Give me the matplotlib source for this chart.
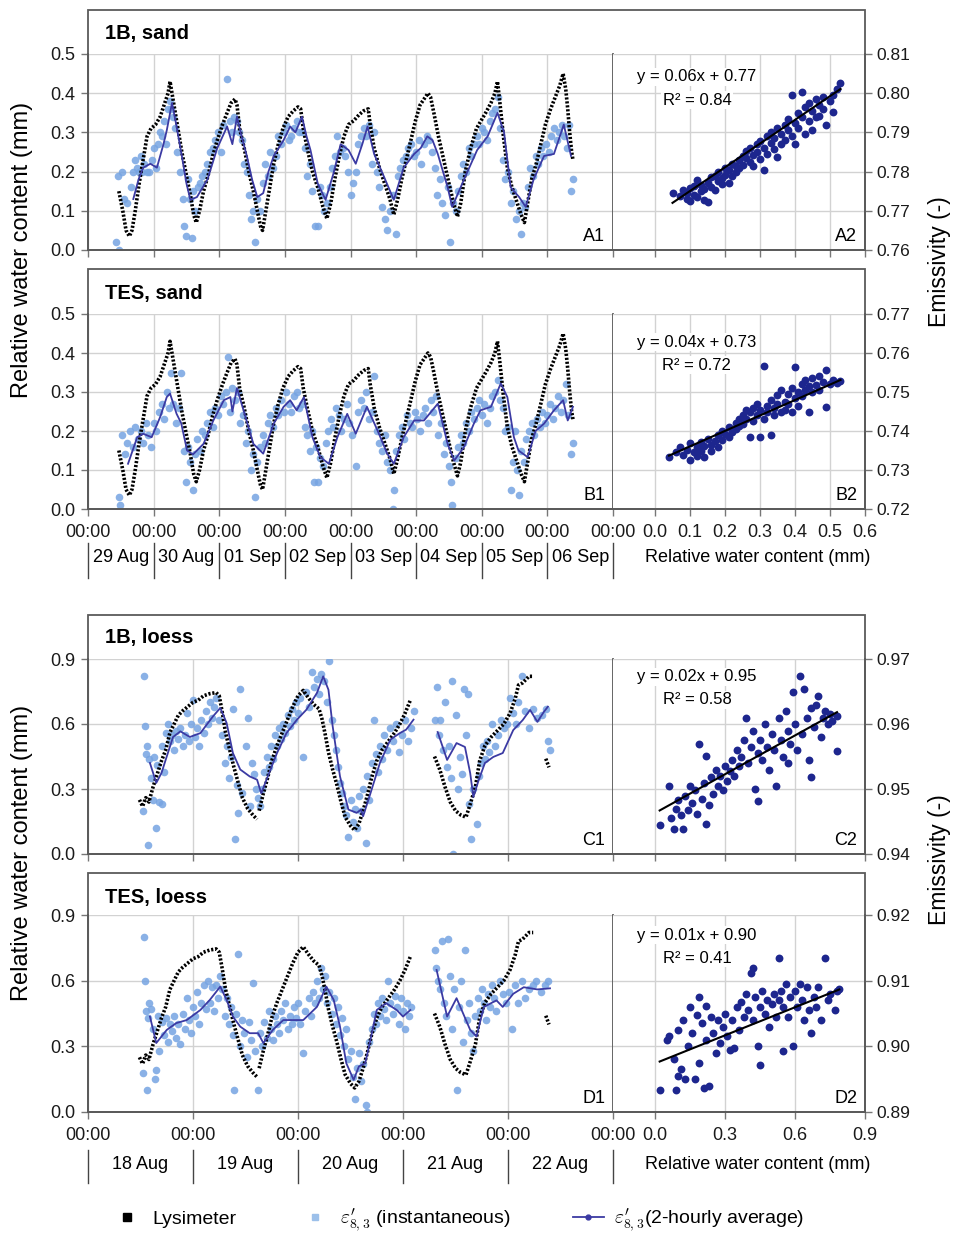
import numpy as np
import matplotlib
matplotlib.use("Agg")
import matplotlib.pyplot as plt
from matplotlib.patches import Rectangle
from matplotlib.lines import Line2D

plt.rcParams['font.family'] = ['Liberation Sans', 'DejaVu Sans']
plt.rcParams['mathtext.fontset'] = 'cm'

# ==================== Data ====================
sand_days = ['29 Aug', '30 Aug', '01 Sep', '02 Sep', '03 Sep', '04 Sep', '05 Sep', '06 Sep']
loess_days = ['18 Aug', '19 Aug', '20 Aug', '21 Aug', '22 Aug']

# lysimeter, sand (days since first midnight, relative water content)
lys_sand = [
    (0.47, 0.15), (0.53, 0.10), (0.58, 0.05), (0.63, 0.035), (0.67, 0.05), (0.72, 0.10), (0.78, 0.17),
    (0.84, 0.23), (0.90, 0.29), (0.96, 0.31), (1.03, 0.32), (1.10, 0.34), (1.16, 0.37), (1.22, 0.40),
    (1.25, 0.43), (1.27, 0.41), (1.31, 0.37), (1.37, 0.31), (1.43, 0.25), (1.50, 0.19), (1.56, 0.14),
    (1.61, 0.09), (1.65, 0.07), (1.70, 0.10), (1.76, 0.15), (1.83, 0.19), (1.90, 0.24), (1.97, 0.28),
    (2.05, 0.32), (2.12, 0.35), (2.18, 0.375), (2.24, 0.385), (2.27, 0.37), (2.31, 0.31), (2.38, 0.26),
    (2.45, 0.20), (2.52, 0.15), (2.58, 0.10), (2.63, 0.06), (2.66, 0.05), (2.70, 0.09), (2.76, 0.15),
    (2.83, 0.22), (2.90, 0.27), (2.97, 0.31), (3.05, 0.34), (3.13, 0.355), (3.20, 0.365), (3.24, 0.36),
    (3.28, 0.31), (3.34, 0.26), (3.42, 0.20), (3.50, 0.16), (3.58, 0.11), (3.64, 0.08), (3.70, 0.12),
    (3.76, 0.18), (3.83, 0.24), (3.90, 0.29), (3.97, 0.32), (4.05, 0.33), (4.13, 0.345), (4.20, 0.355),
    (4.27, 0.36), (4.30, 0.32), (4.36, 0.26), (4.44, 0.21), (4.52, 0.17), (4.60, 0.13), (4.66, 0.09),
    (4.72, 0.13), (4.78, 0.18), (4.85, 0.23), (4.92, 0.28), (4.99, 0.33), (5.06, 0.37), (5.12, 0.385),
    (5.18, 0.40), (5.22, 0.39), (5.27, 0.35), (5.34, 0.29), (5.42, 0.23), (5.50, 0.17), (5.57, 0.12),
    (5.63, 0.085), (5.68, 0.12), (5.75, 0.20), (5.83, 0.26), (5.92, 0.31), (5.99, 0.33), (6.06, 0.35),
    (6.14, 0.375), (6.20, 0.40), (6.24, 0.43), (6.28, 0.37), (6.33, 0.29), (6.39, 0.21), (6.46, 0.16),
    (6.54, 0.12), (6.60, 0.09), (6.65, 0.07), (6.70, 0.12), (6.76, 0.18), (6.83, 0.22), (6.90, 0.27),
    (6.97, 0.32), (7.05, 0.36), (7.12, 0.39), (7.19, 0.42), (7.24, 0.45), (7.28, 0.41), (7.31, 0.36),
    (7.34, 0.30), (7.37, 0.25), (7.39, 0.23),
]

a1_avg = [
    (0.69, 0.13), (0.77, 0.18), (0.84, 0.21), (0.95, 0.22), (1.05, 0.21), (1.15, 0.27), (1.20, 0.305),
    (1.28, 0.375), (1.35, 0.315), (1.43, 0.24), (1.50, 0.17), (1.56, 0.128), (1.66, 0.135), (1.82, 0.18),
    (1.97, 0.26), (2.12, 0.315), (2.20, 0.27), (2.27, 0.34), (2.34, 0.29), (2.42, 0.24), (2.50, 0.18),
    (2.58, 0.135), (2.67, 0.145), (2.75, 0.20), (2.83, 0.24), (2.98, 0.28), (3.08, 0.315), (3.16, 0.30),
    (3.26, 0.34), (3.33, 0.29), (3.39, 0.255), (3.50, 0.17), (3.62, 0.128), (3.74, 0.195), (3.85, 0.27),
    (3.97, 0.255), (4.08, 0.22), (4.18, 0.27), (4.26, 0.315), (4.36, 0.245), (4.51, 0.187), (4.66, 0.128),
    (4.81, 0.21), (4.97, 0.245), (5.07, 0.26), (5.17, 0.29), (5.25, 0.28), (5.33, 0.245), (5.48, 0.16),
    (5.55, 0.11), (5.73, 0.18), (5.93, 0.255), (6.09, 0.29), (6.24, 0.35), (6.34, 0.30), (6.44, 0.16),
    (6.57, 0.135), (6.67, 0.11), (6.79, 0.18), (6.95, 0.24), (7.10, 0.245), (7.25, 0.32), (7.36, 0.24),
]

a1_inst = [
    (0.42, 0.02), (0.45, 0.19), (0.48, 0.0), (0.52, 0.20), (0.55, 0.13), (0.60, 0.12), (0.65, 0.16),
    (0.68, 0.20), (0.72, 0.23), (0.75, 0.21), (0.78, 0.20), (0.80, 0.24), (0.83, 0.20), (0.86, 0.22),
    (0.90, 0.20), (0.93, 0.20), (0.97, 0.23), (1.00, 0.26), (1.03, 0.21), (1.06, 0.27), (1.10, 0.30),
    (1.13, 0.29), (1.16, 0.33), (1.19, 0.27), (1.22, 0.36), (1.25, 0.38), (1.27, 0.36), (1.30, 0.34),
    (1.33, 0.31), (1.36, 0.25), (1.40, 0.20), (1.44, 0.13), (1.47, 0.06), (1.50, 0.035), (1.52, 0.18),
    (1.55, 0.13), (1.58, 0.03), (1.60, 0.15), (1.63, 0.10), (1.67, 0.16), (1.70, 0.17), (1.74, 0.19),
    (1.78, 0.20), (1.82, 0.22), (1.86, 0.25), (1.90, 0.26), (1.94, 0.28), (1.98, 0.30), (2.02, 0.25),
    (2.06, 0.32), (2.12, 0.435), (2.16, 0.33), (2.20, 0.30), (2.23, 0.34), (2.27, 0.33), (2.30, 0.30),
    (2.34, 0.28), (2.38, 0.22), (2.42, 0.20), (2.45, 0.14), (2.48, 0.08), (2.52, 0.10), (2.55, 0.02),
    (2.58, 0.13), (2.62, 0.10), (2.66, 0.17), (2.70, 0.22), (2.74, 0.19), (2.78, 0.25), (2.82, 0.21),
    (2.86, 0.24), (2.90, 0.29), (2.94, 0.27), (2.98, 0.30), (3.02, 0.32), (3.06, 0.28), (3.10, 0.29),
    (3.14, 0.31), (3.18, 0.33), (3.22, 0.30), (3.26, 0.30), (3.30, 0.26), (3.34, 0.19), (3.38, 0.22),
    (3.42, 0.15), (3.46, 0.06), (3.50, 0.06), (3.53, 0.16), (3.56, 0.14), (3.60, 0.10), (3.64, 0.12),
    (3.68, 0.16), (3.72, 0.21), (3.76, 0.24), (3.80, 0.29), (3.84, 0.25), (3.88, 0.26), (3.92, 0.24),
    (3.96, 0.20), (4.00, 0.14), (4.04, 0.17), (4.08, 0.20), (4.12, 0.27), (4.16, 0.29), (4.20, 0.31),
    (4.24, 0.29), (4.28, 0.32), (4.32, 0.22), (4.36, 0.30), (4.40, 0.20), (4.44, 0.16), (4.48, 0.11),
    (4.52, 0.08), (4.56, 0.05), (4.60, 0.10), (4.64, 0.14), (4.69, 0.04), (4.72, 0.19), (4.76, 0.21),
    (4.80, 0.23), (4.84, 0.24), (4.88, 0.26), (4.92, 0.27), (4.96, 0.24), (5.00, 0.25), (5.04, 0.28),
    (5.08, 0.22), (5.12, 0.27), (5.16, 0.29), (5.20, 0.28), (5.24, 0.25), (5.28, 0.21), (5.32, 0.14),
    (5.36, 0.18), (5.40, 0.12), (5.44, 0.09), (5.48, 0.16), (5.52, 0.02), (5.56, 0.12), (5.60, 0.10),
    (5.64, 0.15), (5.68, 0.19), (5.72, 0.22), (5.76, 0.20), (5.80, 0.26), (5.84, 0.24), (5.88, 0.27),
    (5.92, 0.29), (5.96, 0.27), (6.00, 0.31), (6.04, 0.30), (6.08, 0.28), (6.12, 0.33), (6.16, 0.35),
    (6.20, 0.36), (6.24, 0.39), (6.28, 0.31), (6.32, 0.23), (6.36, 0.18), (6.40, 0.20), (6.44, 0.12),
    (6.48, 0.15), (6.52, 0.08), (6.56, 0.10), (6.60, 0.04), (6.63, 0.12), (6.66, 0.11), (6.70, 0.16),
    (6.74, 0.21), (6.78, 0.19), (6.82, 0.24), (6.86, 0.22), (6.90, 0.26), (6.94, 0.24), (6.98, 0.27),
    (7.02, 0.25), (7.06, 0.29), (7.10, 0.31), (7.14, 0.28), (7.18, 0.30), (7.22, 0.32), (7.26, 0.29),
    (7.30, 0.26), (7.33, 0.32), (7.36, 0.15), (7.39, 0.18),
]

b1_avg = [
    (0.61, 0.116), (0.75, 0.184), (0.84, 0.193), (0.97, 0.184), (1.10, 0.236), (1.20, 0.287), (1.25, 0.296),
    (1.35, 0.244), (1.42, 0.22), (1.51, 0.15), (1.60, 0.14), (1.76, 0.167), (1.91, 0.227), (2.07, 0.279),
    (2.17, 0.287), (2.20, 0.25), (2.27, 0.31), (2.37, 0.253), (2.52, 0.167), (2.67, 0.142), (2.83, 0.219),
    (2.98, 0.262), (3.08, 0.279), (3.18, 0.253), (3.29, 0.287), (3.42, 0.184), (3.54, 0.133), (3.67, 0.116),
    (3.80, 0.184), (3.95, 0.244), (4.08, 0.193), (4.25, 0.262), (4.41, 0.202), (4.56, 0.142), (4.66, 0.116),
    (4.81, 0.184), (4.97, 0.227), (5.12, 0.227), (5.33, 0.27), (5.48, 0.167), (5.58, 0.124), (5.73, 0.159),
    (5.88, 0.219), (5.98, 0.253), (6.14, 0.262), (6.29, 0.322), (6.39, 0.287), (6.49, 0.184), (6.56, 0.15),
    (6.70, 0.133), (6.82, 0.20), (6.95, 0.219), (7.10, 0.253), (7.24, 0.279), (7.31, 0.227), (7.39, 0.262),
]

b1_inst = [
    (0.47, 0.03), (0.49, 0.01), (0.52, 0.19), (0.56, 0.14), (0.60, 0.17), (0.64, 0.20), (0.68, 0.16),
    (0.72, 0.21), (0.76, 0.18), (0.80, 0.20), (0.84, 0.17), (0.88, 0.22), (0.92, 0.19), (0.96, 0.16),
    (1.00, 0.22), (1.04, 0.20), (1.08, 0.25), (1.12, 0.27), (1.16, 0.23), (1.20, 0.30), (1.23, 0.26),
    (1.26, 0.35), (1.30, 0.27), (1.34, 0.22), (1.38, 0.26), (1.42, 0.35), (1.46, 0.15), (1.49, 0.07),
    (1.52, 0.16), (1.56, 0.12), (1.60, 0.05), (1.63, 0.14), (1.66, 0.18), (1.70, 0.15), (1.74, 0.20),
    (1.78, 0.19), (1.82, 0.22), (1.86, 0.25), (1.90, 0.21), (1.94, 0.26), (1.98, 0.24), (2.02, 0.29),
    (2.06, 0.27), (2.10, 0.30), (2.13, 0.39), (2.17, 0.25), (2.20, 0.31), (2.24, 0.28), (2.28, 0.30),
    (2.32, 0.22), (2.36, 0.24), (2.40, 0.17), (2.44, 0.20), (2.48, 0.10), (2.52, 0.14), (2.55, 0.03),
    (2.58, 0.12), (2.62, 0.16), (2.66, 0.19), (2.70, 0.17), (2.74, 0.22), (2.78, 0.24), (2.82, 0.21),
    (2.86, 0.26), (2.90, 0.24), (2.94, 0.28), (2.98, 0.25), (3.02, 0.30), (3.06, 0.27), (3.10, 0.25),
    (3.14, 0.29), (3.18, 0.30), (3.22, 0.26), (3.26, 0.27), (3.30, 0.21), (3.34, 0.19), (3.38, 0.15),
    (3.42, 0.20), (3.45, 0.07), (3.48, 0.16), (3.50, 0.07), (3.54, 0.13), (3.58, 0.11), (3.62, 0.17),
    (3.66, 0.20), (3.70, 0.23), (3.74, 0.21), (3.78, 0.26), (3.82, 0.24), (3.86, 0.20), (3.90, 0.23),
    (3.94, 0.27), (3.98, 0.22), (4.02, 0.19), (4.08, 0.11), (4.12, 0.25), (4.16, 0.28), (4.20, 0.26),
    (4.24, 0.30), (4.28, 0.23), (4.32, 0.25), (4.36, 0.34), (4.40, 0.20), (4.44, 0.17), (4.48, 0.15),
    (4.52, 0.19), (4.56, 0.12), (4.60, 0.10), (4.64, 0.0), (4.66, 0.05), (4.70, 0.15), (4.74, 0.19),
    (4.78, 0.21), (4.82, 0.18), (4.86, 0.24), (4.90, 0.22), (4.94, 0.21), (4.98, 0.25), (5.02, 0.23),
    (5.06, 0.20), (5.10, 0.24), (5.14, 0.26), (5.18, 0.22), (5.22, 0.28), (5.26, 0.25), (5.30, 0.29),
    (5.34, 0.19), (5.38, 0.22), (5.42, 0.14), (5.46, 0.17), (5.50, 0.11), (5.53, 0.07), (5.55, 0.01),
    (5.60, 0.13), (5.64, 0.16), (5.68, 0.19), (5.72, 0.17), (5.76, 0.22), (5.80, 0.20), (5.84, 0.25),
    (5.88, 0.23), (5.92, 0.26), (5.96, 0.28), (6.00, 0.24), (6.04, 0.27), (6.08, 0.22), (6.12, 0.26),
    (6.16, 0.29), (6.20, 0.30), (6.24, 0.33), (6.28, 0.28), (6.32, 0.26), (6.36, 0.20), (6.40, 0.21),
    (6.44, 0.05), (6.47, 0.12), (6.50, 0.20), (6.53, 0.10), (6.56, 0.035), (6.60, 0.15), (6.64, 0.12),
    (6.68, 0.18), (6.72, 0.20), (6.76, 0.22), (6.80, 0.19), (6.84, 0.23), (6.88, 0.21), (6.92, 0.25),
    (6.96, 0.22), (7.00, 0.24), (7.04, 0.27), (7.08, 0.23), (7.12, 0.26), (7.16, 0.29), (7.20, 0.25),
    (7.24, 0.28), (7.28, 0.32), (7.32, 0.24), (7.36, 0.14), (7.39, 0.17),
]

# lysimeter, loess (nan = gap in record)
lys_loess = [
    (0.49, 0.25), (0.52, 0.22), (0.55, 0.26), (0.58, 0.24), (0.62, 0.31), (0.66, 0.37), (0.70, 0.43),
    (0.74, 0.48), (0.78, 0.56), (0.82, 0.60), (0.86, 0.64), (0.90, 0.66), (0.95, 0.68), (1.00, 0.70),
    (1.05, 0.71), (1.10, 0.73), (1.16, 0.74), (1.22, 0.745), (1.25, 0.73), (1.28, 0.65), (1.31, 0.56),
    (1.35, 0.48), (1.39, 0.40), (1.43, 0.33), (1.47, 0.26), (1.52, 0.21), (1.57, 0.18), (1.61, 0.16),
    (np.nan, np.nan),
    (1.63, 0.20), (1.67, 0.28), (1.71, 0.35), (1.75, 0.43), (1.80, 0.50), (1.85, 0.56), (1.90, 0.62),
    (1.95, 0.68), (2.00, 0.73), (2.05, 0.755), (2.10, 0.72), (2.15, 0.69), (2.20, 0.67), (2.23, 0.62),
    (2.26, 0.55), (2.29, 0.47), (2.33, 0.39), (2.37, 0.32), (2.41, 0.24), (2.45, 0.17), (2.50, 0.13),
    (2.54, 0.11), (2.58, 0.14), (2.62, 0.20), (2.66, 0.27), (2.70, 0.35), (2.75, 0.43), (2.80, 0.48),
    (2.86, 0.52), (2.92, 0.56), (2.97, 0.60), (3.02, 0.65), (3.07, 0.71),
    (np.nan, np.nan),
    (3.30, 0.45), (3.35, 0.39), (3.40, 0.31), (3.45, 0.24), (3.50, 0.20), (3.55, 0.18), (3.60, 0.17),
    (3.64, 0.23), (3.69, 0.31), (3.73, 0.43), (3.78, 0.50), (3.84, 0.54), (3.90, 0.57), (3.96, 0.60),
    (4.02, 0.65), (4.07, 0.72), (4.10, 0.78), (4.14, 0.79), (4.20, 0.82), (4.24, 0.82),
    (np.nan, np.nan),
    (4.36, 0.44), (4.39, 0.40),
]

c1_avg = [
    (0.59, 0.42), (0.65, 0.328), (0.70, 0.374), (0.75, 0.45), (0.81, 0.54), (0.88, 0.566), (0.97, 0.54),
    (1.07, 0.558), (1.19, 0.635), (1.26, 0.674), (1.32, 0.605), (1.38, 0.466), (1.45, 0.39), (1.54, 0.358),
    (1.61, 0.343), (1.65, 0.28), (1.70, 0.343), (1.80, 0.466), (1.89, 0.558), (1.99, 0.62), (2.08, 0.666),
    (2.18, 0.743), (2.24, 0.82), (2.29, 0.758), (2.33, 0.59), (2.40, 0.358), (2.48, 0.205), (2.56, 0.19),
    (2.60, 0.205), (2.62, 0.174), (2.69, 0.28), (2.78, 0.42), (2.88, 0.528), (2.97, 0.558), (3.03, 0.574),
    (3.10, 0.62),
    (np.nan, np.nan),
    (3.33, 0.563), (3.42, 0.434), (3.51, 0.512), (3.59, 0.494), (3.64, 0.373), (3.67, 0.263), (3.72, 0.34),
    (3.78, 0.42), (3.86, 0.448), (3.95, 0.466), (4.05, 0.572), (4.14, 0.618), (4.21, 0.665), (4.28, 0.61),
    (4.34, 0.655), (4.38, 0.68),
]

c1_inst = [
    (0.52, 0.20), (0.53, 0.82), (0.54, 0.59), (0.55, 0.46), (0.56, 0.50), (0.57, 0.04), (0.58, 0.44),
    (0.60, 0.35), (0.62, 0.25), (0.63, 0.45), (0.65, 0.12), (0.66, 0.41), (0.68, 0.24), (0.70, 0.23),
    (0.70, 0.50), (0.72, 0.38), (0.74, 0.56), (0.76, 0.60), (0.78, 0.52), (0.80, 0.55), (0.82, 0.48),
    (0.84, 0.57), (0.86, 0.53), (0.88, 0.58), (0.90, 0.50), (0.92, 0.55), (0.94, 0.65), (0.96, 0.52),
    (0.98, 0.60), (1.00, 0.71), (1.02, 0.54), (1.04, 0.58), (1.06, 0.50), (1.08, 0.62), (1.10, 0.56),
    (1.12, 0.66), (1.14, 0.60), (1.16, 0.70), (1.18, 0.63), (1.20, 0.68), (1.22, 0.72), (1.25, 0.62),
    (1.28, 0.55), (1.30, 0.42), (1.32, 0.50), (1.34, 0.35), (1.36, 0.45), (1.38, 0.67), (1.40, 0.07),
    (1.42, 0.32), (1.43, 0.19), (1.45, 0.76), (1.47, 0.28), (1.50, 0.50), (1.52, 0.63), (1.54, 0.22),
    (1.56, 0.42), (1.58, 0.37), (1.60, 0.30), (1.62, 0.26), (1.64, 0.22), (1.66, 0.30), (1.68, 0.38),
    (1.70, 0.45), (1.72, 0.40), (1.74, 0.50), (1.76, 0.44), (1.78, 0.55), (1.80, 0.50), (1.82, 0.58),
    (1.84, 0.53), (1.86, 0.60), (1.88, 0.56), (1.90, 0.64), (1.92, 0.59), (1.94, 0.67), (1.96, 0.62),
    (1.98, 0.70), (2.00, 0.65), (2.02, 0.72), (2.05, 0.45), (2.08, 0.75), (2.10, 0.68), (2.13, 0.84),
    (2.15, 0.77), (2.18, 0.81), (2.20, 0.74), (2.22, 0.83), (2.25, 0.80), (2.28, 0.70), (2.30, 0.89),
    (2.32, 0.62), (2.34, 0.55), (2.36, 0.48), (2.38, 0.40), (2.40, 0.33), (2.42, 0.28), (2.44, 0.22),
    (2.46, 0.18), (2.48, 0.08), (2.50, 0.25), (2.52, 0.15), (2.54, 0.21), (2.56, 0.12), (2.58, 0.27),
    (2.60, 0.20), (2.62, 0.30), (2.65, 0.05), (2.66, 0.36), (2.68, 0.25), (2.70, 0.42), (2.72, 0.62),
    (2.74, 0.46), (2.76, 0.38), (2.78, 0.50), (2.80, 0.44), (2.82, 0.55), (2.85, 0.48), (2.88, 0.58),
    (2.90, 0.52), (2.93, 0.60), (2.96, 0.47), (2.99, 0.55), (3.02, 0.62), (3.05, 0.52), (3.08, 0.58),
    (3.10, 0.66),
    (3.30, 0.62), (3.32, 0.77), (3.34, 0.55), (3.35, 0.62), (3.38, 0.48), (3.40, 0.70), (3.42, 0.40),
    (3.44, 0.50), (3.46, 0.35), (3.47, 0.80), (3.48, 0.0), (3.50, 0.64), (3.52, 0.30), (3.54, 0.45),
    (3.56, 0.37), (3.58, 0.76), (3.60, 0.55), (3.62, 0.74), (3.63, 0.23), (3.65, 0.07), (3.67, 0.30),
    (3.70, 0.14), (3.72, 0.36), (3.74, 0.42), (3.76, 0.50), (3.78, 0.44), (3.80, 0.52), (3.82, 0.47),
    (3.85, 0.60), (3.88, 0.50), (3.90, 0.55), (3.93, 0.62), (3.96, 0.58), (3.99, 0.60), (4.02, 0.72),
    (4.05, 0.65), (4.08, 0.60), (4.10, 0.70), (4.13, 0.82), (4.16, 0.66), (4.20, 0.58), (4.24, 0.67),
    (4.28, 0.63), (4.32, 0.64), (4.36, 0.67), (4.38, 0.52), (4.40, 0.48),
]

d1_avg = [
    (0.59, 0.436), (0.65, 0.315), (0.75, 0.375), (0.84, 0.406), (0.94, 0.42), (1.07, 0.466), (1.16, 0.512),
    (1.26, 0.573), (1.32, 0.512), (1.38, 0.436), (1.45, 0.39), (1.54, 0.36), (1.62, 0.36), (1.67, 0.315),
    (1.76, 0.375), (1.86, 0.42), (1.96, 0.42), (2.05, 0.42), (2.18, 0.48), (2.27, 0.573), (2.34, 0.512),
    (2.40, 0.39), (2.46, 0.223), (2.53, 0.147), (2.58, 0.208), (2.64, 0.223), (2.69, 0.33), (2.75, 0.466),
    (2.84, 0.497), (2.94, 0.466), (3.00, 0.436), (3.07, 0.466),
    (np.nan, np.nan),
    (3.32, 0.649), (3.42, 0.436), (3.51, 0.52), (3.64, 0.375), (3.70, 0.345), (3.77, 0.48), (3.89, 0.51),
    (3.95, 0.48), (4.05, 0.54), (4.15, 0.57), (4.28, 0.56), (4.40, 0.565),
]

d1_inst = [
    (0.52, 0.18), (0.53, 0.80), (0.54, 0.60), (0.55, 0.46), (0.56, 0.10), (0.57, 0.43), (0.58, 0.50),
    (0.60, 0.47), (0.62, 0.38), (0.64, 0.15), (0.65, 0.19), (0.67, 0.44), (0.68, 0.28), (0.70, 0.41),
    (0.72, 0.35), (0.74, 0.43), (0.76, 0.32), (0.78, 0.40), (0.80, 0.37), (0.82, 0.44), (0.84, 0.34),
    (0.86, 0.40), (0.88, 0.31), (0.90, 0.45), (0.92, 0.38), (0.94, 0.52), (0.96, 0.42), (0.98, 0.36),
    (1.00, 0.48), (1.02, 0.44), (1.04, 0.55), (1.06, 0.40), (1.08, 0.50), (1.10, 0.58), (1.12, 0.47),
    (1.14, 0.60), (1.16, 0.50), (1.18, 0.57), (1.20, 0.46), (1.22, 0.58), (1.24, 0.52), (1.26, 0.62),
    (1.28, 0.56), (1.30, 0.44), (1.32, 0.52), (1.34, 0.40), (1.36, 0.48), (1.38, 0.35), (1.39, 0.10),
    (1.41, 0.45), (1.43, 0.72), (1.45, 0.30), (1.47, 0.42), (1.49, 0.36), (1.51, 0.25), (1.53, 0.41),
    (1.55, 0.33), (1.57, 0.59), (1.59, 0.28), (1.62, 0.10), (1.64, 0.36), (1.66, 0.30), (1.68, 0.41),
    (1.70, 0.34), (1.72, 0.46), (1.74, 0.38), (1.76, 0.33), (1.78, 0.44), (1.80, 0.40), (1.82, 0.36),
    (1.84, 0.46), (1.86, 0.42), (1.88, 0.50), (1.90, 0.38), (1.92, 0.44), (1.94, 0.40), (1.96, 0.48),
    (1.98, 0.43), (2.00, 0.50), (2.02, 0.40), (2.05, 0.27), (2.07, 0.46), (2.10, 0.52), (2.12, 0.44),
    (2.14, 0.55), (2.16, 0.50), (2.18, 0.60), (2.20, 0.52), (2.22, 0.66), (2.24, 0.56), (2.26, 0.62),
    (2.28, 0.50), (2.30, 0.55), (2.32, 0.45), (2.34, 0.52), (2.36, 0.40), (2.38, 0.48), (2.40, 0.35),
    (2.42, 0.43), (2.44, 0.30), (2.46, 0.38), (2.48, 0.24), (2.50, 0.28), (2.52, 0.16), (2.54, 0.06),
    (2.56, 0.20), (2.58, 0.27), (2.60, 0.14), (2.62, 0.22), (2.65, 0.03), (2.66, 0.0), (2.68, 0.32),
    (2.70, 0.38), (2.72, 0.45), (2.74, 0.40), (2.76, 0.50), (2.78, 0.44), (2.80, 0.52), (2.82, 0.47),
    (2.84, 0.42), (2.86, 0.60), (2.88, 0.50), (2.90, 0.45), (2.92, 0.53), (2.94, 0.48), (2.96, 0.40),
    (2.98, 0.52), (3.00, 0.46), (3.02, 0.38), (3.04, 0.50), (3.06, 0.44), (3.08, 0.48),
    (3.30, 0.74), (3.31, 0.66), (3.33, 0.60), (3.35, 0.56), (3.37, 0.78), (3.39, 0.50), (3.41, 0.44),
    (3.43, 0.79), (3.45, 0.62), (3.47, 0.38), (3.49, 0.56), (3.51, 0.10), (3.53, 0.48), (3.55, 0.60),
    (3.57, 0.32), (3.59, 0.74), (3.61, 0.42), (3.63, 0.50), (3.65, 0.36), (3.67, 0.28), (3.69, 0.44),
    (3.71, 0.52), (3.73, 0.46), (3.75, 0.56), (3.77, 0.50), (3.79, 0.42), (3.81, 0.54), (3.83, 0.48),
    (3.85, 0.58), (3.87, 0.52), (3.89, 0.46), (3.92, 0.60), (3.95, 0.54), (3.98, 0.50), (4.01, 0.55),
    (4.04, 0.38), (4.07, 0.58), (4.10, 0.50), (4.13, 0.60), (4.16, 0.52), (4.20, 0.56), (4.24, 0.58),
    (4.27, 0.60), (4.31, 0.55), (4.35, 0.58), (4.38, 0.60),
]

# emissivity vs relative water content (2-hourly)
a2_pts = [
    (0.05, 0.7746), (0.07, 0.7738), (0.08, 0.7752), (0.09, 0.7731), (0.09, 0.7745), (0.10, 0.7758),
    (0.10, 0.7725), (0.11, 0.7740), (0.11, 0.7762), (0.12, 0.7778), (0.12, 0.7735), (0.13, 0.7750),
    (0.13, 0.7765), (0.14, 0.7728), (0.14, 0.7756), (0.15, 0.7723), (0.15, 0.7772), (0.16, 0.7785),
    (0.16, 0.7760), (0.17, 0.7790), (0.17, 0.7752), (0.18, 0.7775), (0.18, 0.7800), (0.19, 0.7768),
    (0.19, 0.7784), (0.20, 0.7810), (0.20, 0.7792), (0.21, 0.7772), (0.21, 0.7805), (0.22, 0.7820),
    (0.22, 0.7790), (0.23, 0.7815), (0.23, 0.7798), (0.24, 0.7830), (0.24, 0.7808), (0.25, 0.7840),
    (0.25, 0.7818), (0.26, 0.7835), (0.26, 0.7852), (0.27, 0.7825), (0.27, 0.7860), (0.28, 0.7843),
    (0.28, 0.7815), (0.29, 0.7870), (0.29, 0.7850), (0.30, 0.7832), (0.30, 0.7878), (0.31, 0.7804),
    (0.31, 0.7860), (0.32, 0.7890), (0.32, 0.7845), (0.33, 0.7872), (0.33, 0.7900), (0.34, 0.7858),
    (0.34, 0.7885), (0.35, 0.7910), (0.35, 0.7838), (0.36, 0.7895), (0.36, 0.7870), (0.37, 0.7920),
    (0.37, 0.7880), (0.38, 0.7905), (0.38, 0.7935), (0.39, 0.7890), (0.39, 0.7996), (0.40, 0.7925),
    (0.40, 0.7870), (0.41, 0.7950), (0.41, 0.7910), (0.42, 0.8004), (0.42, 0.7940), (0.43, 0.7895),
    (0.43, 0.7965), (0.44, 0.7930), (0.44, 0.7975), (0.45, 0.7905), (0.45, 0.7955), (0.46, 0.7985),
    (0.46, 0.7940), (0.47, 0.7942), (0.47, 0.7970), (0.48, 0.7990), (0.48, 0.7960), (0.49, 0.7919),
    (0.50, 0.7980), (0.51, 0.7953), (0.51, 0.7995), (0.52, 0.8010), (0.53, 0.8027),
]
a2_fit = (0.0605, 0.769)
a2_text = ['y = 0.06x + 0.77', 'R² = 0.84']

b2_pts = [
    (0.04, 0.7333), (0.06, 0.7345), (0.07, 0.7360), (0.08, 0.7338), (0.09, 0.7352), (0.10, 0.7325),
    (0.10, 0.7368), (0.11, 0.7345), (0.12, 0.7358), (0.12, 0.7335), (0.13, 0.7372), (0.13, 0.7350),
    (0.14, 0.7333), (0.14, 0.7362), (0.15, 0.7380), (0.16, 0.7365), (0.16, 0.7348), (0.17, 0.7375),
    (0.18, 0.7390), (0.18, 0.7360), (0.19, 0.7400), (0.19, 0.7378), (0.20, 0.7392), (0.21, 0.7385),
    (0.21, 0.7410), (0.22, 0.7398), (0.23, 0.7420), (0.23, 0.7405), (0.24, 0.7430), (0.24, 0.7412),
    (0.25, 0.7440), (0.25, 0.7418), (0.26, 0.7455), (0.26, 0.7432), (0.27, 0.7384), (0.27, 0.7448),
    (0.28, 0.7460), (0.28, 0.7425), (0.29, 0.7442), (0.29, 0.7470), (0.30, 0.7384), (0.30, 0.7455),
    (0.31, 0.7567), (0.31, 0.7430), (0.32, 0.7465), (0.32, 0.7448), (0.33, 0.7389), (0.33, 0.7480),
    (0.34, 0.7458), (0.34, 0.7440), (0.35, 0.7492), (0.35, 0.7468), (0.36, 0.7448), (0.36, 0.7505),
    (0.37, 0.7475), (0.37, 0.7455), (0.38, 0.7495), (0.38, 0.7470), (0.39, 0.7510), (0.39, 0.7450),
    (0.40, 0.7485), (0.40, 0.7563), (0.41, 0.7500), (0.41, 0.7465), (0.42, 0.7520), (0.42, 0.7490),
    (0.43, 0.7505), (0.43, 0.7530), (0.44, 0.7448), (0.44, 0.7515), (0.45, 0.7500), (0.45, 0.7535),
    (0.46, 0.7518), (0.47, 0.7505), (0.47, 0.7540), (0.48, 0.7525), (0.49, 0.7557), (0.49, 0.7461),
    (0.50, 0.7520), (0.51, 0.7530), (0.52, 0.7522), (0.53, 0.7528),
]
b2_fit = (0.0396, 0.7321)
b2_text = ['y = 0.04x + 0.73', 'R² = 0.72']

c2_pts = [
    (0.02, 0.9444), (0.06, 0.9504), (0.07, 0.9455), (0.08, 0.9438), (0.09, 0.9470), (0.10, 0.9483),
    (0.11, 0.9460), (0.12, 0.9438), (0.13, 0.9490), (0.14, 0.9468), (0.15, 0.9505), (0.16, 0.9478),
    (0.17, 0.9498), (0.18, 0.9462), (0.19, 0.9569), (0.20, 0.9485), (0.21, 0.9510), (0.22, 0.9551),
    (0.22, 0.9446), (0.23, 0.9475), (0.24, 0.9518), (0.25, 0.9492), (0.26, 0.9530), (0.27, 0.9505),
    (0.28, 0.9520), (0.29, 0.9498), (0.30, 0.9535), (0.31, 0.9512), (0.32, 0.9528), (0.33, 0.9545),
    (0.34, 0.9520), (0.35, 0.9560), (0.36, 0.9535), (0.37, 0.9550), (0.38, 0.9575), (0.39, 0.9610),
    (0.40, 0.9540), (0.41, 0.9565), (0.42, 0.9590), (0.43, 0.9500), (0.44, 0.9482), (0.44, 0.9555),
    (0.45, 0.9575), (0.46, 0.9545), (0.47, 0.9600), (0.48, 0.9565), (0.49, 0.9530), (0.50, 0.9585),
    (0.51, 0.9560), (0.52, 0.9505), (0.53, 0.9610), (0.54, 0.9575), (0.55, 0.9550), (0.56, 0.9620),
    (0.57, 0.9590), (0.57, 0.9540), (0.58, 0.9570), (0.59, 0.9649), (0.60, 0.9600), (0.61, 0.9560),
    (0.62, 0.9674), (0.63, 0.9585), (0.64, 0.9654), (0.65, 0.9610), (0.66, 0.9545), (0.67, 0.9518),
    (0.67, 0.9625), (0.68, 0.9595), (0.69, 0.9630), (0.70, 0.9643), (0.71, 0.9580), (0.72, 0.9610),
    (0.73, 0.9620), (0.74, 0.9600), (0.75, 0.9615), (0.76, 0.9605), (0.78, 0.9612), (0.78, 0.9559),
]
c2_fit = (0.0199, 0.9463)
c2_text = ['y = 0.02x + 0.95', 'R² = 0.58']

d2_pts = [
    (0.02, 0.8934), (0.05, 0.9010), (0.06, 0.9016), (0.08, 0.8980), (0.09, 0.8934), (0.10, 0.8955),
    (0.10, 0.9025), (0.11, 0.8965), (0.12, 0.9040), (0.13, 0.8950), (0.14, 0.9000), (0.15, 0.9060),
    (0.16, 0.9020), (0.17, 0.8950), (0.18, 0.9048), (0.19, 0.9075), (0.19, 0.8975), (0.20, 0.9035),
    (0.21, 0.8936), (0.22, 0.9062), (0.22, 0.9010), (0.23, 0.8940), (0.24, 0.9045), (0.25, 0.9020),
    (0.26, 0.8990), (0.27, 0.9040), (0.28, 0.9005), (0.29, 0.9030), (0.30, 0.9050), (0.31, 0.9015),
    (0.32, 0.8995), (0.33, 0.9040), (0.34, 0.8998), (0.35, 0.9060), (0.36, 0.9025), (0.37, 0.9068),
    (0.38, 0.9045), (0.39, 0.9080), (0.40, 0.9055), (0.41, 0.9111), (0.42, 0.9119), (0.42, 0.9040),
    (0.43, 0.9075), (0.44, 0.9000), (0.45, 0.8972), (0.45, 0.9060), (0.46, 0.9085), (0.47, 0.9050),
    (0.48, 0.9070), (0.49, 0.9030), (0.50, 0.9065), (0.51, 0.9080), (0.52, 0.9045), (0.53, 0.9134),
    (0.53, 0.9070), (0.54, 0.9085), (0.55, 0.8993), (0.55, 0.9060), (0.56, 0.9095), (0.57, 0.9045),
    (0.58, 0.9075), (0.59, 0.9000), (0.60, 0.9085), (0.61, 0.9060), (0.62, 0.9095), (0.63, 0.9070),
    (0.64, 0.9040), (0.65, 0.9090), (0.66, 0.9055), (0.67, 0.9020), (0.68, 0.9075), (0.69, 0.9060),
    (0.70, 0.9090), (0.71, 0.9040), (0.73, 0.9134), (0.74, 0.9070), (0.75, 0.9080), (0.77, 0.9055),
    (0.78, 0.9085), (0.79, 0.9088),
]
d2_fit = (0.01425, 0.8974)
d2_text = ['y = 0.01x + 0.90', 'R² = 0.41']

# ==================== Styles ====================
C_INST = '#76a4e2'
C_AVG = '#3b3aa3'
C_SCAT = '#1d268e'
C_GRID = '#d2d2d2'
C_SPINE = '#5a5a5a'
FW, FH = 954, 1233


def fbox(x0, y0, x1, y1):
    return [x0 / FW, 1 - y1 / FH, (x1 - x0) / FW, (y1 - y0) / FH]


def style_axes(ax):
    for s in ax.spines.values():
        s.set_color(C_SPINE)
        s.set_linewidth(1.3)
    ax.spines['top'].set_visible(False)
    ax.grid(True, color=C_GRID, linewidth=1.0)
    ax.set_axisbelow(True)
    ax.tick_params(direction='out', length=5, width=1, color='#777777',
                   labelsize=13, labelcolor='#1a1a1a')


def draw_ts(ax, lys, inst, avg, ymax, yticks, ndays, tag, show_x):
    style_axes(ax)
    it, iv = np.array(inst).T
    lt, lv = np.array(lys).T
    at, av = np.array(avg).T
    ax.scatter(it, iv, s=30, color=C_INST, alpha=0.85, linewidths=0, zorder=2)
    ax.plot(lt, lv, color='black', lw=2.6, ls=(0, (0.6, 0.5)), zorder=3)
    ax.plot(at, av, color=C_AVG, lw=1.3, zorder=4)
    ax.set_xlim(0, ndays)
    ax.set_ylim(0, ymax)
    ax.set_xticks(range(ndays + 1))
    ax.set_xticklabels(['00:00'] * (ndays + 1))
    ax.set_yticks(yticks)
    ax.set_yticklabels([f'{v:.1f}' for v in yticks])
    ax.tick_params(axis='x', labelbottom=show_x, pad=6)
    ax.tick_params(axis='y', pad=4)
    ax.text(0.985, 0.025, tag, transform=ax.transAxes, ha='right', va='bottom', fontsize=13)


def draw_sc(ax, pts, fit, text, xlim, xticks, ylim, yticks, tag, show_x):
    style_axes(ax)
    ax.spines['left'].set_visible(False)
    px, py = np.array(pts).T
    ax.scatter(px, py, s=32, color=C_SCAT, linewidths=0, zorder=3)
    xf = np.array([px.min(), px.max()])
    ax.plot(xf, fit[0] * xf + fit[1], color='black', lw=1.5, zorder=4)
    ax.set_xlim(*xlim)
    ax.set_ylim(*ylim)
    ax.set_xticks(xticks)
    ax.set_xticklabels([f'{v:.1f}' for v in xticks])
    ax.set_yticks(yticks)
    ax.set_yticklabels([f'{v:.2f}' for v in yticks])
    ax.yaxis.tick_right()
    ax.tick_params(axis='y', labelsize=12.5, pad=3, left=False)
    ax.tick_params(axis='x', labelbottom=show_x, pad=6)
    ax.text(0.97, 0.025, tag, transform=ax.transAxes, ha='right', va='bottom', fontsize=13)
    bb = dict(facecolor='white', edgecolor='none', pad=1)
    ax.text(0.333, text[2], text[0], transform=ax.transAxes, ha='center', va='center',
            fontsize=12, bbox=bb, zorder=5)
    ax.text(0.333, text[3], text[1], transform=ax.transAxes, ha='center', va='center',
            fontsize=12, bbox=bb, zorder=5)


def day_row(ax, labels, ytxt, ysep):
    trans = ax.get_xaxis_transform()
    for i, lab in enumerate(labels):
        ax.text(i + 0.5, ytxt, lab, transform=trans, ha='center', va='center', fontsize=13,
                clip_on=False)
    for i in range(len(labels) + 1):
        ax.plot([i, i], ysep, transform=trans, color='#444444', lw=1.0, clip_on=False)


fig = plt.figure(figsize=(9.54, 12.33), dpi=100)

# row frames
for (x0, y0, x1, y1) in [(88, 10, 865, 250), (88, 269, 865, 509), (88, 615, 865, 854), (88, 873, 865, 1112)]:
    l, b, w, h = fbox(x0, y0, x1, y1)
    fig.add_artist(Rectangle((l, b), w, h, transform=fig.transFigure, fill=False,
                             edgecolor=C_SPINE, linewidth=1.3))

sand_y = [0.0, 0.1, 0.2, 0.3, 0.4, 0.5]
loess_y = [0.0, 0.3, 0.6, 0.9]

axA1 = fig.add_axes(fbox(88, 54, 613, 250))
draw_ts(axA1, lys_sand, a1_inst, a1_avg, 0.5, sand_y, 8, 'A1', False)
axB1 = fig.add_axes(fbox(88, 314, 613, 509))
draw_ts(axB1, lys_sand, b1_inst, b1_avg, 0.5, sand_y, 8, 'B1', True)
axC1 = fig.add_axes(fbox(88, 659, 613, 854))
draw_ts(axC1, lys_loess, c1_inst, c1_avg, 0.9, loess_y, 5, 'C1', False)
axD1 = fig.add_axes(fbox(88, 915, 613, 1112))
draw_ts(axD1, lys_loess, d1_inst, d1_avg, 0.9, loess_y, 5, 'D1', True)

sx_sand = [0.0, 0.1, 0.2, 0.3, 0.4, 0.5, 0.6]
sx_loess = [0.0, 0.3, 0.6, 0.9]
axA2 = fig.add_axes(fbox(613, 54, 865, 250))
draw_sc(axA2, a2_pts, a2_fit, a2_text + [0.883, 0.765], (-0.12, 0.6), sx_sand, (0.76, 0.81),
        [0.76, 0.77, 0.78, 0.79, 0.80, 0.81], 'A2', False)
axB2 = fig.add_axes(fbox(613, 314, 865, 509))
draw_sc(axB2, b2_pts, b2_fit, b2_text + [0.856, 0.738], (-0.12, 0.6), sx_sand, (0.72, 0.77),
        [0.72, 0.73, 0.74, 0.75, 0.76, 0.77], 'B2', True)
axC2 = fig.add_axes(fbox(613, 659, 865, 854))
draw_sc(axC2, c2_pts, c2_fit, c2_text + [0.908, 0.79], (-0.18, 0.9), sx_loess, (0.94, 0.97),
        [0.94, 0.95, 0.96, 0.97], 'C2', False)
axD2 = fig.add_axes(fbox(613, 915, 865, 1112))
draw_sc(axD2, d2_pts, d2_fit, d2_text + [0.898, 0.78], (-0.18, 0.9), sx_loess, (0.89, 0.92),
        [0.89, 0.90, 0.91, 0.92], 'D2', True)

# date rows and x labels
day_row(axB1, sand_days, -0.251, [-0.174, -0.354])
day_row(axD1, loess_days, -0.269, [-0.193, -0.36])
axB2.text(0.575, -0.251, 'Relative water content (mm)', transform=axB2.transAxes,
          ha='center', va='center', fontsize=13)
axD2.text(0.575, -0.269, 'Relative water content (mm)', transform=axD2.transAxes,
          ha='center', va='center', fontsize=13)

# panel titles
for txt, y in [('1B, sand', 34), ('TES, sand', 293), ('1B, loess', 638), ('TES, loess', 897)]:
    fig.text(105 / FW, 1 - y / FH, txt, fontsize=14.5, fontweight='bold', va='center', ha='left')

# axis titles
for y in [250, 853]:
    fig.text(22 / FW, 1 - y / FH, 'Relative water content (mm)', rotation=90, fontsize=17,
             ha='center', va='center')
for y in [262, 860]:
    fig.text(940 / FW, 1 - y / FH, 'Emissivity (-)', rotation=90, fontsize=16.5,
             ha='center', va='center')

# legend
handles = [
    Line2D([], [], marker='s', color='black', ls='none', ms=6),
    Line2D([], [], marker='s', color='#9cc0ea', ls='none', ms=4),
    Line2D([], [], marker='o', color=C_AVG, ls='-', lw=1.3, ms=3.5),
]
labels = ['Lysimeter', r"$\varepsilon^{\prime}_{8,3}$ (instantaneous)",
          r"$\varepsilon^{\prime}_{8,3}$(2-hourly average)"]
fig.legend(handles, labels, loc='center', bbox_to_anchor=(0.48, 1 - 1220 / FH), ncol=3,
           frameon=False, fontsize=14, columnspacing=3.2, handlelength=1.6, handletextpad=0.5)

fig.savefig('out.png', dpi=100)
